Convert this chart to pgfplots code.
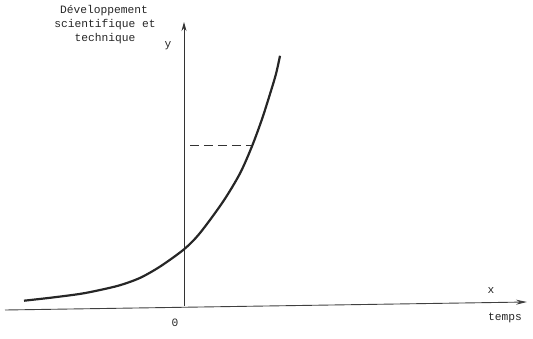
\documentclass[border=0pt]{standalone}
\usepackage{pgfplots}
\pgfplotsset{compat=1.18}
\usepackage{fontspec}
\setmainfont{Liberation Mono}
\usetikzlibrary{arrows.meta}
\begin{document}
\begin{tikzpicture}
\begin{axis}[
  scale only axis, width=533bp, height=339bp,
  xmin=0, xmax=533, ymin=0, ymax=339, y dir=reverse,
  hide axis, clip=false,
  every axis plot/.append style={no marks},
]
\path (rel axis cs:0,0) rectangle (rel axis cs:1,1);
% axes
\addplot[black!80, line width=0.9pt, -{Stealth[length=9pt,width=5pt]}] coordinates {(184,306) (184,22)};
\addplot[black!75, line width=0.9pt, -{Stealth[length=11pt,width=5pt]}] coordinates {(5,310) (527,302)};
% dashed
\addplot[black!80, line width=0.8pt, dash pattern=on 9pt off 5pt] coordinates {(190,145) (252,145)};
% curve
\addplot[black!85, line width=2.2pt, smooth] coordinates {
(24,300.7) (50,297.8) (80,293.9) (100,290) (120,285.2) (140,277.9) (160,266.6)
(184,249.3) (200,233) (223,201.7) (240,173.4) (252,146.2) (262,119.1) (270,94) (276,73.9) (280,55.8)};
% labels
\tikzset{lbl/.style={font=\fontsize{11.3}{13}\selectfont, text=black!85, inner sep=0pt}}
\node[lbl] at (axis cs:104,11) {Développement};
\node[lbl] at (axis cs:105,25) {scientifique et};
\node[lbl] at (axis cs:105,39) {technique};
\node[lbl] at (axis cs:168,46) {y};
\node[lbl] at (axis cs:491,291) {x};
\node[lbl] at (axis cs:175,323) {0};
\node[lbl] at (axis cs:505,318) {temps};
\end{axis}
\end{tikzpicture}
\end{document}
